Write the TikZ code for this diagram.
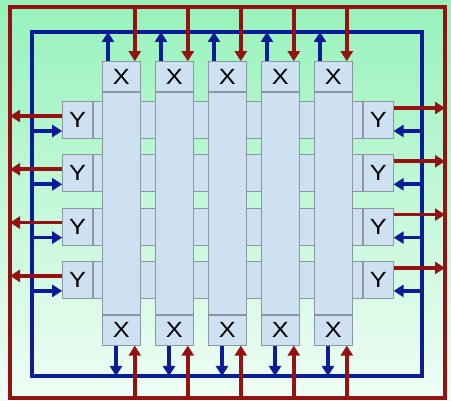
\documentclass[tikz,border=0pt]{standalone}
\usepackage{fontspec}
\setsansfont{Liberation Sans}
\usetikzlibrary{arrows.meta}
\definecolor{bgtop}{RGB}{150,242,186}
\definecolor{bgbot}{RGB}{240,253,246}
\definecolor{cellfill}{RGB}{205,225,241}
\definecolor{cellline}{RGB}{140,150,162}
\definecolor{outred}{RGB}{150,18,18}
\definecolor{inblue}{RGB}{12,28,150}
\newcommand{\cellname}[1]{\scalebox{1.15}[1]{\fontsize{22}{24}\selectfont #1}}
\tikzset{
  cell/.style={draw=cellline, fill=cellfill, line width=0.8pt, inner sep=0pt,
    font=\sffamily},
  redline/.style={draw=outred, line width=3.8pt},
  blueline/.style={draw=inblue, line width=3.8pt},
  flow/.style={-{Triangle[length=10pt,width=12pt]}},
}

\begin{document}
\begin{tikzpicture}[x=1pt, y=-1pt]
  \useasboundingbox (0,0) rectangle (451,401);
  \shade[top color=bgtop, bottom color=bgbot] (0,0) rectangle (451,401);
  \coordinate (RT) at (10,7);
  \coordinate (RB) at (445,398);
  \coordinate (BT) at (32,32);
  \coordinate (BB) at (422,376);
  \foreach \j in {0,...,3}
    \node[cell, minimum width=269pt, minimum height=37pt, anchor=north west]
      (row\j) at ({93},{101+53.3*\j}) {};
  \foreach \i in {0,...,4} {
    \node[cell, minimum width=38pt, minimum height=222pt, anchor=north west]
      (col\i) at ({102+53*\i},{92}) {};
    \node[cell, minimum width=38pt, minimum height=30pt, anchor=south west]
      (xt\i) at (col\i.north west) {\cellname{X}};
    \node[cell, minimum width=38pt, minimum height=30pt, anchor=north west]
      (xb\i) at (col\i.south west) {\cellname{X}};
  }
  \foreach \j in {0,...,3} {
    \node[cell, minimum width=30pt, minimum height=37pt, anchor=east] (yl\j) at (row\j.west) {\cellname{Y}};
    \node[cell, minimum width=30pt, minimum height=37pt, anchor=west] (yr\j) at (row\j.east) {\cellname{Y}};
  }
  \draw[blueline] (BT) rectangle (BB);
  \foreach \i in {0,...,4} {
    \coordinate (bu\i) at ([xshift=6pt]xt\i.north west);
    \coordinate (bd\i) at ([xshift=14pt]xb\i.south west);
    \draw[blueline, flow] (bu\i) -- (bu\i |- BT);
    \draw[blueline, flow] (bd\i) -- (bd\i |- BB);
  }
  \foreach \j in {0,...,3} {
    \coordinate (bl\j) at ([yshift=-30pt]yl\j.north west);
    \coordinate (br\j) at ([yshift=-30pt]yr\j.north east);
    \draw[blueline, flow] (bl\j -| BT) -- (bl\j);
    \draw[blueline, flow] (br\j -| BB) -- (br\j);
  }
  \draw[redline] (RT) rectangle (RB);
  \foreach \i in {0,...,4} {
    \coordinate (rd\i) at ([xshift=-6pt]xt\i.north east);
    \coordinate (ru\i) at ([xshift=-6pt]xb\i.south east);
    \draw[redline, flow] (rd\i |- RT) -- (rd\i);
    \draw[redline, flow] (ru\i |- RB) -- (ru\i);
  }
  \foreach \j in {0,...,3} {
    \coordinate (rl\j) at ([yshift=-15pt]yl\j.north west);
    \coordinate (rr\j) at ([yshift=-7pt]yr\j.north east);
    \draw[redline, flow] (rl\j) -- (rl\j -| RT);
    \draw[redline, flow] (rr\j) -- (rr\j -| RB);
  }
\end{tikzpicture}
\end{document}
